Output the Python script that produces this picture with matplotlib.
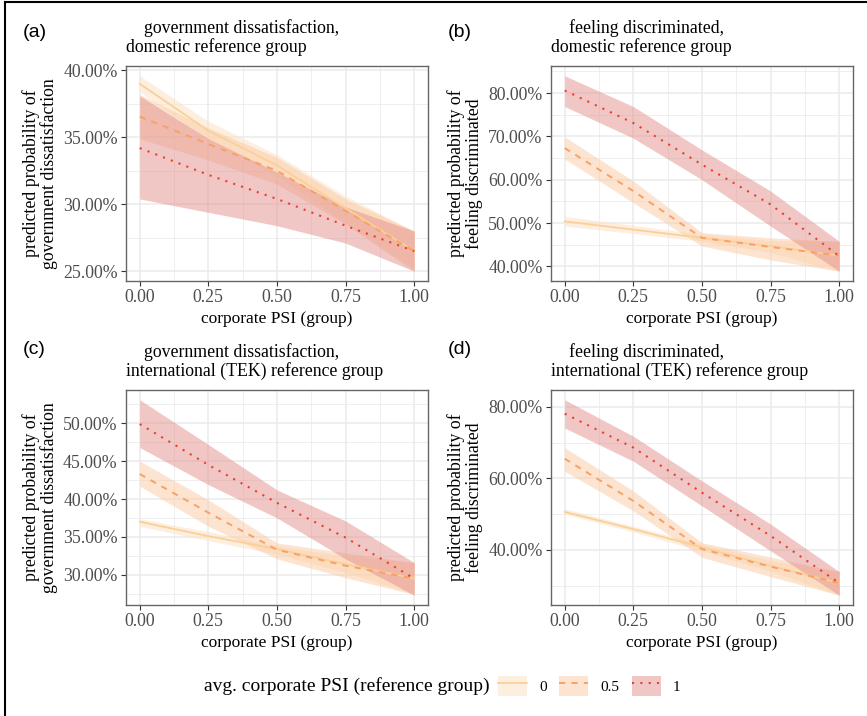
import matplotlib
matplotlib.use('Agg')
import matplotlib.pyplot as plt
from matplotlib.ticker import MultipleLocator, FuncFormatter
from matplotlib.lines import Line2D
from matplotlib.patches import Patch
from matplotlib.legend_handler import HandlerTuple

plt.rcParams['font.family'] = ['Liberation Serif', 'DejaVu Serif']

# x = corporate PSI of the group
psi_x = [0.00, 0.25, 0.50, 0.75, 1.00]
ref_levels = ['0', '0.5', '1']

# (a) government dissatisfaction, domestic reference group (in %)
a_fit_0 = [39.0, 35.5, 32.9, 29.7, 26.5]
a_lo_0 = [38.4, 34.8, 32.1, 28.6, 25.2]
a_hi_0 = [39.6, 36.2, 33.7, 30.6, 28.0]
a_fit_05 = [36.55, 34.5, 32.5, 29.5, 26.5]
a_lo_05 = [34.9, 33.3, 31.5, 28.5, 25.0]
a_hi_05 = [38.2, 35.7, 33.5, 30.4, 28.0]
a_fit_1 = [34.2, 32.2, 30.4, 28.4, 26.5]
a_lo_1 = [30.4, 29.4, 28.4, 27.1, 25.0]
a_hi_1 = [38.1, 34.9, 32.4, 29.8, 28.0]

# (b) feeling discriminated, domestic reference group
b_fit_0 = [50.4, 48.5, 46.6, 44.7, 42.5]
b_lo_0 = [49.3, 47.6, 45.8, 43.2, 38.9]
b_hi_0 = [51.6, 49.5, 47.4, 46.0, 45.8]
b_fit_05 = [67.3, 57.4, 46.6, 44.5, 42.5]
b_lo_05 = [64.8, 54.7, 44.7, 41.5, 38.9]
b_hi_05 = [69.9, 59.7, 47.8, 46.6, 45.8]
b_fit_1 = [80.6, 73.1, 63.5, 54.3, 42.4]
b_lo_1 = [76.9, 69.6, 60.0, 49.3, 38.9]
b_hi_1 = [84.0, 76.9, 66.9, 57.4, 45.8]

# (c) government dissatisfaction, international (TEK) reference group
c_fit_0 = [37.0, 35.1, 33.4, 31.4, 29.5]
c_lo_0 = [36.4, 34.5, 32.7, 30.3, 27.4]
c_hi_0 = [37.4, 35.7, 33.8, 32.5, 31.6]
c_fit_05 = [43.3, 38.2, 33.3, 31.2, 29.5]
c_lo_05 = [41.7, 36.4, 32.1, 29.6, 27.4]
c_hi_05 = [45.0, 39.9, 34.2, 32.9, 31.6]
c_fit_1 = [49.9, 44.5, 39.5, 34.9, 29.5]
c_lo_1 = [46.8, 41.9, 37.5, 32.1, 27.3]
c_hi_1 = [53.1, 47.2, 41.2, 37.1, 31.6]

# (d) feeling discriminated, international (TEK) reference group
d_fit_0 = [50.6, 45.8, 40.7, 35.5, 30.7]
d_lo_0 = [50.0, 45.0, 39.7, 34.0, 27.3]
d_hi_0 = [51.5, 46.6, 41.6, 37.0, 33.9]
d_fit_05 = [65.5, 53.7, 40.2, 35.3, 30.7]
d_lo_05 = [62.0, 50.9, 37.9, 32.5, 27.3]
d_hi_05 = [68.6, 56.5, 42.0, 38.0, 33.9]
d_fit_1 = [78.1, 68.6, 56.0, 43.9, 30.7]
d_lo_1 = [74.1, 64.8, 52.3, 39.7, 27.3]
d_hi_1 = [82.0, 71.8, 59.3, 47.2, 33.9]

# styles per reference level
line_cols = ['#FCCF98', '#F7A264', '#EA3F2C']
fill_cols = ['#FDE0C0', '#FBCBA5', '#E5908C']
fill_alpha = [0.5, 0.5, 0.5]
line_styles = ['-', (0, (3.2, 3.2)), (0, (1, 3))]
line_widths = [1.3, 1.4, 1.5]

W, H = 867, 716
fig = plt.figure(figsize=(W / 100, H / 100), dpi=100)

def px(x, y, w, h):
    return [x / W, 1 - (y + h) / H, w / W, h / H]

panels = [
    ('(a)', 'government dissatisfaction,', 'domestic reference group',
     'predicted probability of\ngovernment dissatisfaction',
     [(a_fit_0, a_lo_0, a_hi_0), (a_fit_05, a_lo_05, a_hi_05), (a_fit_1, a_lo_1, a_hi_1)],
     5, 2.5, 126, 66),
    ('(b)', 'feeling discriminated,', 'domestic reference group',
     'predicted probability of\nfeeling discriminated',
     [(b_fit_0, b_lo_0, b_hi_0), (b_fit_05, b_lo_05, b_hi_05), (b_fit_1, b_lo_1, b_hi_1)],
     10, 5, 551, 66),
    ('(c)', 'government dissatisfaction,', 'international (TEK) reference group',
     'predicted probability of\ngovernment dissatisfaction',
     [(c_fit_0, c_lo_0, c_hi_0), (c_fit_05, c_lo_05, c_hi_05), (c_fit_1, c_lo_1, c_hi_1)],
     5, 2.5, 126, 390),
    ('(d)', 'feeling discriminated,', 'international (TEK) reference group',
     'predicted probability of\nfeeling discriminated',
     [(d_fit_0, d_lo_0, d_hi_0), (d_fit_05, d_lo_05, d_hi_05), (d_fit_1, d_lo_1, d_hi_1)],
     20, 10, 551, 390),
]

aw, ah = 302, 215
for tag, t1, t2, ylab, series, major, minor, x0, y0 in panels:
    ax = fig.add_axes(px(x0, y0, aw, ah))
    for k, (fit, lo, hi) in enumerate(series):
        ax.fill_between(psi_x, lo, hi, color=fill_cols[k], alpha=fill_alpha[k], lw=0)
    for k, (fit, lo, hi) in enumerate(series):
        ax.plot(psi_x, fit, color=line_cols[k], ls=line_styles[k], lw=line_widths[k])
    ax.margins(0.05)

    ax.xaxis.set_major_locator(MultipleLocator(0.25))
    ax.xaxis.set_minor_locator(MultipleLocator(0.125))
    ax.yaxis.set_major_locator(MultipleLocator(major))
    ax.yaxis.set_minor_locator(MultipleLocator(minor))
    ax.xaxis.set_major_formatter(FuncFormatter(lambda v, p: f'{v:.2f}'))
    ax.yaxis.set_major_formatter(FuncFormatter(lambda v, p: f'{v:.2f}%'))
    ax.set_axisbelow(True)
    ax.grid(which='major', color='#EBEBEB', lw=1.1)
    ax.grid(which='minor', color='#EBEBEB', lw=0.55)
    ax.tick_params(which='major', direction='out', length=3.5, width=0.8, color='#333333',
                   labelcolor='#4D4D4D', labelsize=12.8, pad=2.5)
    ax.tick_params(which='minor', length=0)
    for sp in ax.spines.values():
        sp.set_color('#666666')
        sp.set_linewidth(1.0)

    ax.set_xlabel('corporate PSI (group)', fontsize=12.5, va='center')
    ax.xaxis.set_label_coords(0.5, -38 / ah)

    # titles: ggplot-style, left aligned with an indented first line
    fig.text((x0 + 18) / W, 1 - (y0 - 33) / H, t1, fontsize=12.8, va='baseline', ha='left')
    fig.text(x0 / W, 1 - (y0 - 14) / H, t2, fontsize=12.8, va='baseline', ha='left')
    # panel tag
    lab_y = 37 if y0 < 200 else 354
    fig.text((x0 - 103) / W, 1 - lab_y / H, tag, fontsize=14, va='baseline', ha='left',
             family=['Liberation Sans', 'DejaVu Sans'])
    # y axis title
    fig.text((x0 - 86) / W, 1 - (y0 + ah / 2) / H, ylab, rotation=90, fontsize=12.8,
             ha='center', va='center', linespacing=0.95)

# legend
fig.text(490 / W, 1 - 686 / H, 'avg. corporate PSI (reference group)', fontsize=14,
         ha='right', va='center')
handles = []
for k in range(3):
    handles.append((Patch(facecolor=fill_cols[k], alpha=fill_alpha[k], edgecolor='none'),
                    Line2D([], [], color=line_cols[k], ls=line_styles[k], lw=line_widths[k])))
fig.legend(handles, ref_levels, handler_map={tuple: HandlerTuple(ndivide=1, pad=0)},
           loc='center left', bbox_to_anchor=(498 / W, 1 - 686 / H), ncol=3, frameon=False,
           fontsize=11, handlelength=1.9, handleheight=1.7, handletextpad=0.8,
           columnspacing=0.8, borderpad=0, borderaxespad=0)

# outer frame (left and top edge of the screenshot)
fig.add_artist(Line2D([5 / W, 5 / W], [0, 1 - 2 / H], color='black', lw=1.5,
                      transform=fig.transFigure))
fig.add_artist(Line2D([5 / W, 1], [1 - 2 / H, 1 - 2 / H], color='black', lw=1.5,
                      transform=fig.transFigure))

fig.savefig('out.png', dpi=100, facecolor='white')
